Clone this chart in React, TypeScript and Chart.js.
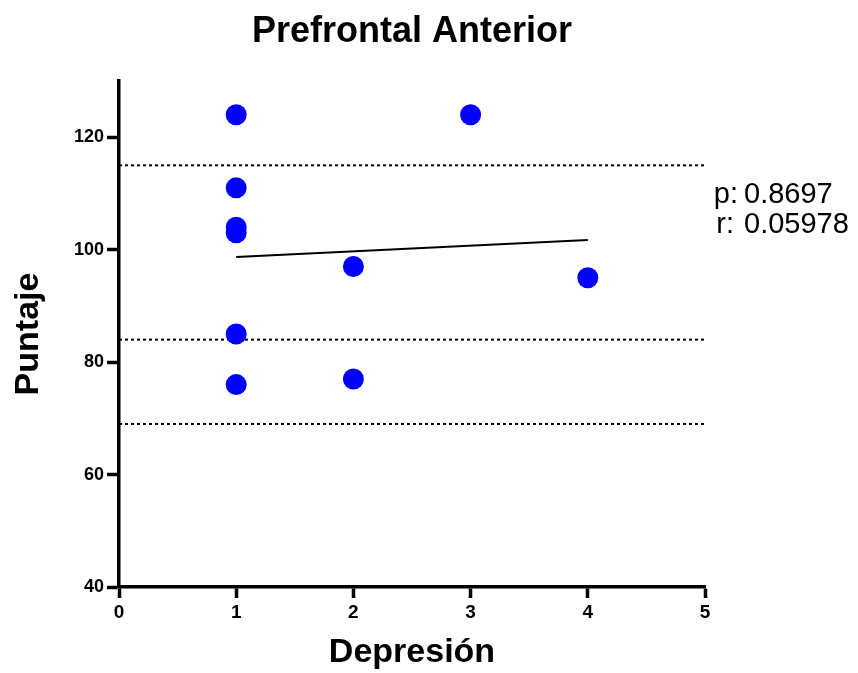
import React, { useEffect, useRef } from "react";
import { Chart, registerables } from "chart.js";

Chart.register(...registerables);

const FONT = "'Liberation Sans', Arial, Helvetica, sans-serif";

// Data
const depresion = [1, 1, 1, 1, 1, 1, 2, 2, 3, 4];
const puntaje = [124, 111, 104, 103, 85, 76, 97, 77, 124, 95];
const referenceLevels = [115, 84, 69];
const fitX = [1, 4];
const fitY = [98.7, 101.7];
const xTicks = [0, 1, 2, 3, 4, 5];
const yTicks = [40, 60, 80, 100, 120];
const statLabels = ["p:", "r:"];
const statValues = ["0.8697", "0.05978"];

const TITLE = "Prefrontal Anterior";
const X_TITLE = "Depresión";
const Y_TITLE = "Puntaje";

const statsPlugin = {
  id: "statsText",
  afterDraw(chart: any) {
    const { ctx, chartArea } = chart;
    ctx.save();
    ctx.fillStyle = "#000";
    ctx.font = `29px ${FONT}`;
    ctx.textBaseline = "alphabetic";
    ctx.textAlign = "right";
    const labelRight = [chartArea.right + 33, chartArea.right + 29];
    const baselines = [chartArea.top + 122, chartArea.top + 152];
    statLabels.forEach((t, i) => ctx.fillText(t, labelRight[i], baselines[i]));
    ctx.textAlign = "left";
    statValues.forEach((t, i) => ctx.fillText(t, chartArea.right + 39, baselines[i]));
    ctx.restore();
  },
};

export default function App() {
  const ref = useRef<HTMLCanvasElement>(null);

  useEffect(() => {
    if (!ref.current) return;
    const refDatasets = referenceLevels.map((lvl) => ({
      type: "line" as const,
      data: [
        { x: xTicks[0], y: lvl },
        { x: xTicks[xTicks.length - 1], y: lvl },
      ],
      borderColor: "#000",
      borderWidth: 2,
      borderDash: [3, 3],
      pointRadius: 0,
      fill: false,
    }));
    const chart = new Chart(ref.current, {
      type: "scatter",
      data: {
        datasets: [
          {
            type: "scatter",
            data: depresion.map((x, i) => ({ x, y: puntaje[i] })),
            backgroundColor: "#0000FF",
            borderWidth: 0,
            pointRadius: 10.5,
            pointHoverRadius: 10.5,
          },
          {
            type: "line",
            data: fitX.map((x, i) => ({ x, y: fitY[i] })),
            borderColor: "#000",
            borderWidth: 2,
            pointRadius: 0,
            fill: false,
          },
          ...refDatasets,
        ] as any,
      },
      options: {
        responsive: false,
        animation: false,
        layout: { padding: { top: 0, left: 0, right: 153, bottom: 0 } },
        plugins: {
          legend: { display: false },
          tooltip: { enabled: false },
          title: {
            display: true,
            text: TITLE,
            fullSize: false,
            color: "#000",
            font: { family: FONT, size: 36, weight: "bold" },
            padding: { top: 10, bottom: 27.8 },
          },
        },
        scales: {
          x: {
            type: "linear",
            min: 0,
            max: 5,
            afterBuildTicks: (s: any) => {
              s.ticks = xTicks.map((v) => ({ value: v }));
            },
            afterFit: (s: any) => {
              s.height = 86;
            },
            ticks: {
              color: "#000",
              font: { family: FONT, size: 19, weight: "bold" },
              padding: 3,
              maxRotation: 0,
            },
            grid: {
              drawOnChartArea: false,
              drawTicks: true,
              tickLength: 11,
              tickWidth: 3.5,
              tickColor: "#000",
            },
            border: { display: true, color: "#000", width: 3.5 },
            title: {
              display: true,
              text: X_TITLE,
              color: "#000",
              font: { family: FONT, size: 34, weight: "bold" },
              padding: { top: 0, bottom: 0 },
            },
          },
          y: {
            type: "linear",
            min: 40,
            max: 130,
            afterBuildTicks: (s: any) => {
              s.ticks = yTicks.map((v) => ({ value: v }));
            },
            afterFit: (s: any) => {
              s.width = 119;
            },
            ticks: {
              color: "#000",
              font: { family: FONT, size: 18, weight: "bold" },
              padding: 3,
            },
            grid: {
              drawOnChartArea: false,
              drawTicks: true,
              tickLength: 12,
              tickWidth: 3.5,
              tickColor: "#000",
            },
            border: { display: true, color: "#000", width: 3.5 },
            title: {
              display: true,
              text: Y_TITLE,
              color: "#000",
              font: { family: FONT, size: 34, weight: "bold" },
              padding: { top: 8, bottom: 0 },
            },
          },
        },
      } as any,
      plugins: [statsPlugin],
    });
    return () => chart.destroy();
  }, []);

  return (
    <div style={{ position: "fixed", left: 0, top: 0, width: 858, height: 673, background: "#fff" }}>
      <canvas ref={ref} width={858} height={673} style={{ display: "block", width: 858, height: 673 }} />
    </div>
  );
}
